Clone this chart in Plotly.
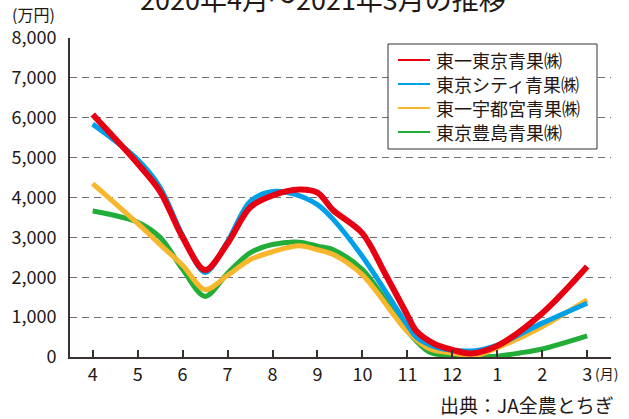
import plotly.graph_objects as go

# month positions: 0=4月 ... 8=12月, 9=1月, 10=2月, 11=3月
tick_pos = [0, 1, 2, 3, 4, 5, 6, 7, 8, 9, 10, 11]
tick_labels = ["4", "5", "6", "7", "8", "9", "10", "11", "12", "1", "2", "3"]
y_ticks = [0, 1000, 2000, 3000, 4000, 5000, 6000, 7000, 8000]

names = ["東一東京青果㈱", "東京シティ青果㈱", "東一宇都宮青果㈱", "東京豊島青果㈱"]
colors = ["#E60012", "#00A0E9", "#F8B62D", "#22AC38"]

red_x = [0, 1, 1.5, 2, 2.5, 3, 3.5, 4, 4.6, 5, 5.35, 6, 6.5, 7, 7.2, 7.6, 8, 8.4, 9, 10, 11]
red_y = [6080, 4850, 4150, 3000, 2180, 2850, 3750, 4050, 4200, 4120, 3680, 3100, 2100, 1050, 650, 330, 180, 90, 280, 1100, 2270]

blue_x = [0, 1, 1.5, 2, 2.5, 3, 3.5, 4, 4.5, 5, 5.35, 6, 7, 7.2, 7.6, 8, 8.5, 9, 10, 11]
blue_y = [5840, 4950, 4250, 3050, 2120, 2900, 3900, 4150, 4080, 3820, 3450, 2520, 800, 500, 260, 170, 160, 300, 850, 1350]

orange_x = [0, 1, 1.5, 2, 2.5, 3, 3.5, 4, 4.6, 5, 5.35, 6, 7, 7.5, 8, 8.5, 9, 10, 11]
orange_y = [4350, 3350, 2820, 2300, 1690, 2050, 2440, 2640, 2790, 2690, 2570, 2060, 640, 200, 100, 30, 230, 760, 1430]

green_x = [0, 1, 1.5, 2, 2.5, 3, 3.5, 4, 4.6, 5, 5.35, 6, 7, 7.5, 8, 8.5, 9, 9.5, 10, 11]
green_y = [3660, 3380, 3000, 2200, 1520, 2100, 2610, 2820, 2880, 2780, 2690, 2190, 650, 120, 30, 0, 20, 100, 200, 530]

series = [(red_x, red_y), (blue_x, blue_y), (orange_x, orange_y), (green_x, green_y)]
widths = [6, 5, 5, 5]

FONT = "Noto Sans CJK JP"
TXT = "#231815"

fig = go.Figure()
# draw order: green, orange, blue, red (red on top)
for i in [3, 2, 1, 0]:
    xs, ys = series[i]
    fig.add_trace(go.Scatter(x=xs, y=ys, mode="lines", showlegend=False, name=names[i],
                             line=dict(color=colors[i], width=widths[i], shape="spline", smoothing=0.9),
                             hoverinfo="skip"))

W, H = 629, 419
L, R, T, B = 70, 18, 38, 62
pw, ph = W - L - R, H - T - B

def px(x):
    return (x - L) / pw

def py(y):
    return (H - B - y) / ph

fig.update_layout(
    width=W, height=H,
    margin=dict(l=L, r=R, t=T, b=B),
    paper_bgcolor="white", plot_bgcolor="white",
    font=dict(family=FONT, color=TXT, size=18),
    showlegend=False,
    xaxis=dict(range=[-0.505, 11.53], tickmode="array", tickvals=tick_pos, ticktext=tick_labels,
               showgrid=False, zeroline=False, showline=True, linecolor="#3a3030", linewidth=2,
               ticks="inside", ticklen=7, tickwidth=1.5, tickcolor="#3a3030",
               tickfont=dict(size=18, family=FONT, color=TXT)),
    yaxis=dict(range=[0, 8000], tickmode="array", tickvals=y_ticks,
               ticktext=[f"{v:,}" for v in y_ticks],
               showgrid=True, gridcolor="#6f6f6f", gridwidth=1.3, griddash="7px,5px",
               zeroline=False, showline=True, linecolor="#3a3030", linewidth=2,
               ticks="", ticklabelstandoff=8,
               tickfont=dict(size=18, family=FONT, color=TXT)),
)

# legend (drawn as box + samples + labels)
fig.add_shape(type="rect", xref="paper", yref="paper",
              x0=px(388), x1=px(597), y0=py(149), y1=py(44),
              line=dict(color="#333333", width=1), fillcolor="white", layer="above")
leg_y = [60, 84, 108, 132]
for i in range(4):
    fig.add_shape(type="line", xref="paper", yref="paper",
                  x0=px(398), x1=px(430), y0=py(leg_y[i]), y1=py(leg_y[i]),
                  line=dict(color=colors[i], width=2), layer="above")
    fig.add_annotation(text=names[i], xref="paper", yref="paper",
                       x=px(434), y=py(leg_y[i]), xanchor="left", yanchor="middle",
                       showarrow=False, font=dict(size=18, family=FONT, color=TXT))

fig.add_annotation(text="2020年4月～2021年3月の推移", xref="paper", yref="paper",
                   x=px(323), y=py(-1), xanchor="center", yanchor="middle",
                   showarrow=False, font=dict(size=27, family=FONT, color=TXT))
fig.add_annotation(text="(万円)", xref="paper", yref="paper",
                   x=px(33), y=py(14), xanchor="center", yanchor="middle",
                   showarrow=False, font=dict(size=16, family=FONT, color=TXT))
fig.add_annotation(text="(月)", xref="paper", yref="paper",
                   x=px(593), y=py(373), xanchor="left", yanchor="middle",
                   showarrow=False, font=dict(size=14, family=FONT, color=TXT))
fig.add_annotation(text="出典：JA全農とちぎ", xref="paper", yref="paper",
                   x=px(616), y=py(405), xanchor="right", yanchor="middle",
                   showarrow=False, font=dict(size=19, family=FONT, color=TXT))

fig.write_html("out.html", config={"displayModeBar": False},
               post_script="document.body.style.margin='0';document.body.style.overflow='hidden';")
